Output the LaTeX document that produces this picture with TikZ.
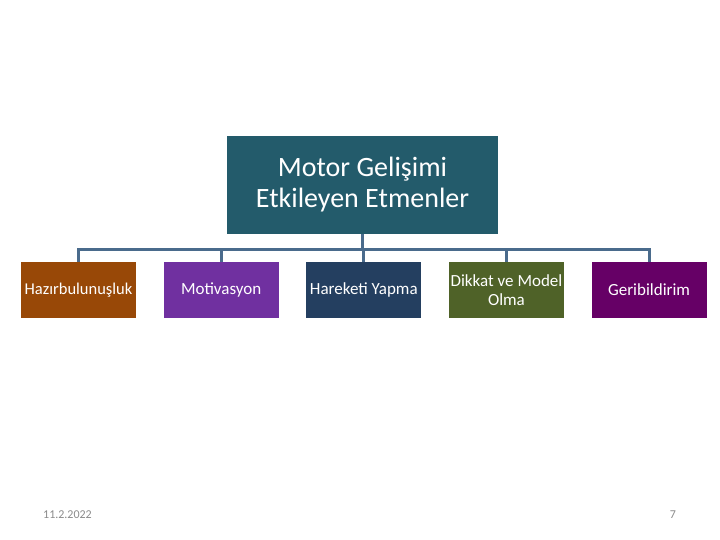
\documentclass[tikz,border=0pt]{standalone}
\usepackage{fontspec}
\setmainfont{Carlito}
\usepackage{xcolor}
\usepackage{tikz}
\usetikzlibrary{positioning,calc}

\definecolor{rootteal}{HTML}{235B6B}
\definecolor{linkblue}{HTML}{4A6B8C}
\definecolor{hazbrown}{HTML}{984807}
\definecolor{motpurple}{HTML}{7030A0}
\definecolor{harnavy}{HTML}{243F60}
\definecolor{dikolive}{HTML}{4F6228}
\definecolor{gerplum}{HTML}{660066}
\definecolor{footgray}{HTML}{8A8A8A}

\begin{document}
\begin{tikzpicture}[x=1pt,y=1pt,
  node distance=28pt and 27.25pt,
  box/.style={draw=none,align=center,text=white,inner sep=0pt,
              minimum height=56pt,minimum width=115pt,
              font=\fontsize{17}{19}\selectfont},
  root/.style={box,fill=rootteal,minimum width=271pt,minimum height=98pt,
               font=\fontsize{28}{31}\selectfont},
  foot/.style={text=footgray,inner sep=0pt,font=\fontsize{12}{14}\selectfont},
  conn/.style={draw=linkblue,line width=3pt}]

  \useasboundingbox (0,0) rectangle (720,540);

  \node[root] (top) at (362.5,355) {Motor Gelişimi\\Etkileyen Etmenler};

  \node[box,fill=hazbrown,font=\fontsize{16.5}{19}\selectfont] (hazir) at (78.5,250) {Hazırbulunuşluk};
  \node[box,fill=motpurple,right=of hazir] (motiv) {Motivasyon};
  \node[box,fill=harnavy,right=of motiv] (hareket) {Hareketi Yapma};
  \node[box,fill=dikolive,right=of hareket] (dikkat) {Dikkat ve Model\\Olma};
  \node[box,fill=gerplum,right=of dikkat] (geri) {Geribildirim};

  \coordinate (bus) at ($(top.south)+(0,-15)$);
  \draw[conn] (top.south) -- (bus);
  \foreach \c in {hazir,motiv,hareket,dikkat,geri}
    \draw[conn] (bus) -| (\c.north);

  \node[foot] (date) at (67.5,25) {11.2.2022};
  \node[foot] (page) at (673,25) {7};
\end{tikzpicture}
\end{document}
